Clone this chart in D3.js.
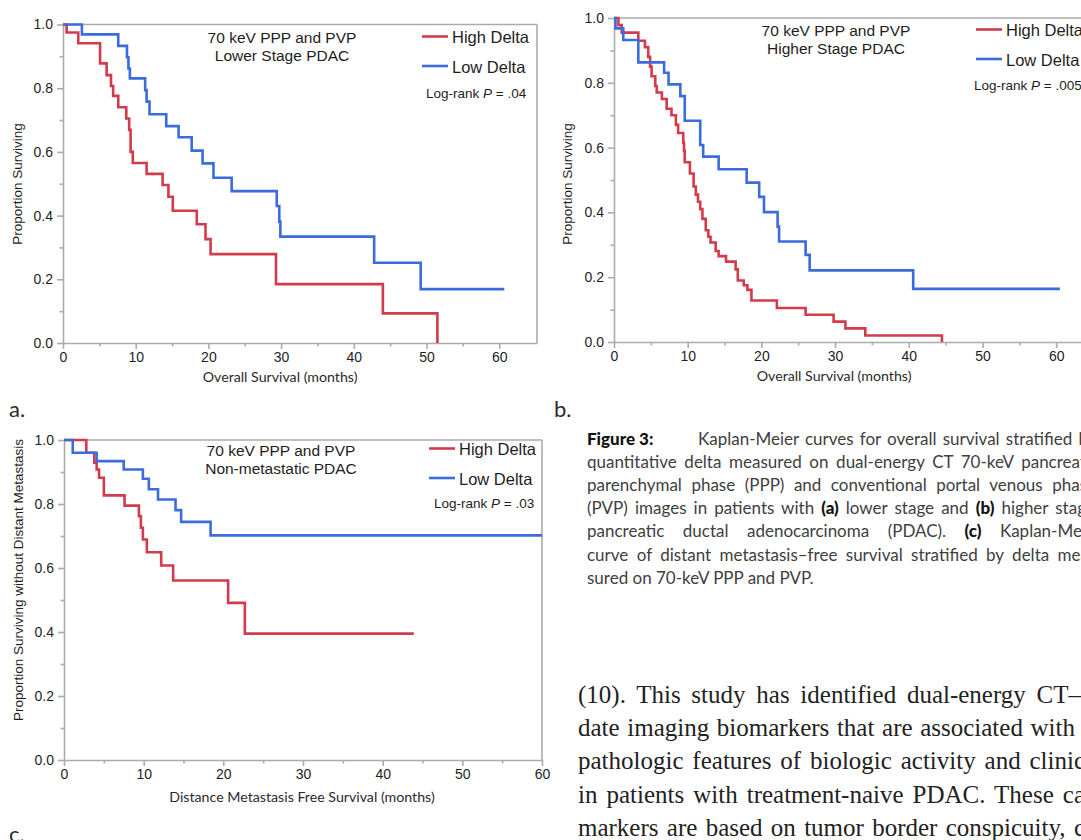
<!DOCTYPE html>
<html>
<head>
<meta charset="utf-8">
<title>Figure 3 Kaplan-Meier</title>
<script src="https://d3js.org/d3.v7.min.js"></script>
<style>
    body { margin: 0; background: #ffffff; overflow: hidden; }
    svg { display: block; }
    .axis path, .axis line { stroke: #ababab; stroke-width: 1.6px; }
    .axis.minor path { display: none; }
    .axis text { font-family: "Liberation Sans", Arial, sans-serif; font-size: 14px; fill: #1e1e1e; }
    .frame { stroke: #ababab; stroke-width: 1.6px; }
    .sans { font-family: "Liberation Sans", Arial, sans-serif; fill: #1e1e1e; }
    .geo { font-family: Lato, "Noto Sans", sans-serif; fill: #2a2a2a; }
    .caption { font-family: Lato, "Noto Sans", sans-serif; font-size: 17px; fill: #404040; }
    .caption .b, .caption.b { font-weight: 900; fill: #111; }
    .body { font-family: "Liberation Serif", "DejaVu Serif", serif; font-size: 25px; fill: #222; }
</style>
</head>
<body>
<svg id="fig" width="1081" height="840"></svg>
<script>
    // shared ticks
    const xTicks = [0, 10, 20, 30, 40, 50, 60];
    const xMinor = [5, 15, 25, 35, 45, 55];
    const yTicks = [0, 0.2, 0.4, 0.6, 0.8, 1.0];
    const yMinor = [0.1, 0.3, 0.5, 0.7, 0.9];
    const seriesNames = ["High Delta", "Low Delta"];

    // (a) lower stage PDAC, overall survival
    const aHighTime = [0, 0.5, 2.1, 5.1, 6.0, 6.6, 6.9, 7.6, 8.7, 9.1, 9.3, 9.6, 11.5, 13.7, 14.5, 15.1, 18.4, 19.6, 20.3, 29.3, 44.0, 51.5];
    const aHighSurv = [1, 0.975, 0.941, 0.878, 0.841, 0.807, 0.776, 0.740, 0.705, 0.669, 0.60, 0.565, 0.531, 0.496, 0.459, 0.415, 0.373, 0.326, 0.279, 0.185, 0.093, 0];
    const aLowTime = [0, 2.6, 7.6, 8.8, 9.0, 9.2, 11.3, 11.5, 11.9, 14.2, 15.9, 17.7, 19.2, 20.7, 23.2, 29.4, 29.75, 29.9, 42.8, 49.2, 60.7];
    const aLowSurv = [1, 0.969, 0.933, 0.897, 0.862, 0.831, 0.794, 0.758, 0.718, 0.681, 0.646, 0.604, 0.564, 0.519, 0.477, 0.43, 0.381, 0.334, 0.252, 0.169, 0.169];

    // (b) higher stage PDAC, overall survival
    const bHighTime = [0, 0.6, 1.05, 3.3, 4.2, 4.65, 4.9, 5.1, 5.6, 5.8, 6.5, 7.15, 7.8, 8.4, 8.7, 9.4, 9.5, 9.6, 10.3, 10.8, 11.1, 11.4, 11.7, 12.0, 12.45, 12.8, 13.1, 13.8, 14.2, 15.2, 16.5, 16.8, 17.6, 18.1, 18.65, 22.1, 26.0, 29.8, 31.4, 34.1, 44.5];
    const bHighSurv = [1, 0.978, 0.955, 0.93, 0.91, 0.88, 0.85, 0.82, 0.79, 0.77, 0.75, 0.72, 0.70, 0.67, 0.645, 0.615, 0.59, 0.555, 0.52, 0.48, 0.455, 0.433, 0.41, 0.38, 0.345, 0.325, 0.307, 0.281, 0.265, 0.248, 0.224, 0.19, 0.175, 0.161, 0.128, 0.105, 0.084, 0.063, 0.042, 0.02, 0];
    const bLowTime = [0, 0.2, 1.26, 3.3, 6.8, 7.4, 9.0, 9.6, 11.7, 12.1, 14.2, 18.0, 19.7, 20.35, 22.2, 22.4, 26.0, 26.55, 40.6, 60.5];
    const bLowSurv = [1, 0.968, 0.932, 0.863, 0.831, 0.795, 0.759, 0.683, 0.608, 0.572, 0.533, 0.492, 0.448, 0.401, 0.356, 0.31, 0.269, 0.221, 0.164, 0.164];

    // (c) non-metastatic PDAC, distant metastasis free survival
    const cHighTime = [0, 2.8, 3.8, 4.1, 4.4, 5.0, 7.6, 9.4, 9.65, 9.9, 10.4, 12.2, 13.7, 20.6, 22.7, 43.9];
    const cHighSurv = [1, 0.96, 0.929, 0.908, 0.882, 0.827, 0.795, 0.762, 0.726, 0.689, 0.649, 0.608, 0.561, 0.491, 0.395, 0.395];
    const cLowTime = [0, 1.1, 4.1, 7.5, 9.9, 10.65, 11.8, 14.0, 14.7, 18.4, 60];
    const cLowSurv = [1, 0.96, 0.934, 0.908, 0.879, 0.846, 0.814, 0.781, 0.744, 0.702, 0.702];

    const red = "#d13b4c";
    const blue = "#3a6cdb";

    const svg = d3.select("#fig");

    function drawPanel(p) {
        const g = svg.append("g");
        const x = d3.scaleLinear().domain([0, p.xMax]).range([p.left, p.right]);
        const y = d3.scaleLinear().domain([0, 1]).range([p.bottom, p.top]);

        // top + right frame
        g.append("line").attr("class", "frame")
            .attr("x1", p.left).attr("x2", p.right).attr("y1", p.top).attr("y2", p.top);
        g.append("line").attr("class", "frame")
            .attr("x1", p.right).attr("x2", p.right).attr("y1", p.top).attr("y2", p.bottom);

        // minor ticks
        g.append("g").attr("class", "axis minor")
            .attr("transform", `translate(0,${p.bottom})`)
            .call(d3.axisBottom(x).tickValues(xMinor).tickSize(3.5).tickFormat(""));
        g.append("g").attr("class", "axis minor")
            .attr("transform", `translate(${p.left},0)`)
            .call(d3.axisLeft(y).tickValues(yMinor).tickSize(3.5).tickFormat(""));

        // major axes
        g.append("g").attr("class", "axis")
            .attr("transform", `translate(0,${p.bottom})`)
            .call(d3.axisBottom(x).tickValues(xTicks).tickSize(6).tickSizeOuter(0).tickPadding(3).tickFormat(d3.format("d")));
        g.append("g").attr("class", "axis")
            .attr("transform", `translate(${p.left},0)`)
            .call(d3.axisLeft(y).tickValues(yTicks).tickSize(6).tickSizeOuter(0).tickPadding(4).tickFormat(d3.format(".1f")));

        // survival curves
        const line = d3.line()
            .x(d => x(d[0]))
            .y(d => y(d[1]))
            .curve(d3.curveStepAfter);
        p.series.forEach(s => {
            g.append("path")
                .datum(d3.zip(s.time, s.surv))
                .attr("d", line)
                .attr("fill", "none")
                .attr("stroke", s.color)
                .attr("stroke-width", 2.6);
        });

        // legend
        p.series.forEach((s, i) => {
            const ly = p.legY + i * 29.5;
            g.append("line")
                .attr("x1", p.legX).attr("x2", p.legX + 26)
                .attr("y1", ly).attr("y2", ly)
                .attr("stroke", s.color).attr("stroke-width", 2.6);
            g.append("text").attr("class", "sans")
                .attr("x", p.legX + 30).attr("y", ly + 6.5)
                .style("font-size", "16.5px")
                .text(seriesNames[i]);
        });
        const lr = g.append("text").attr("class", "sans")
            .attr("x", p.lrX).attr("y", p.lrY)
            .style("font-size", "13.5px");
        lr.append("tspan").text("Log-rank ");
        lr.append("tspan").style("font-style", "italic").text("P");
        lr.append("tspan").text(" = " + p.pval);

        // annotation
        p.title.forEach((t, i) => {
            g.append("text").attr("class", "sans")
                .attr("x", p.titleX).attr("y", p.titleY + i * 18.5)
                .attr("text-anchor", "middle")
                .style("font-size", "15.5px")
                .text(t);
        });

        // axis titles
        g.append("text").attr("class", "geo")
            .attr("x", x(30) - 1).attr("y", p.bottom + p.xTitleDy)
            .attr("text-anchor", "middle")
            .style("font-size", "14.2px")
            .text(p.xTitle);
        g.append("text").attr("class", "sans")
            .attr("transform", `translate(${p.yTitleX},${p.yTitleY}) rotate(-90)`)
            .attr("text-anchor", "middle")
            .style("font-size", "13.5px")
            .text(p.yTitle);

        // panel letter
        g.append("text").attr("class", "geo")
            .attr("x", p.tagX).attr("y", p.tagY)
            .style("font-size", "22px")
            .text(p.tag);
    }

    drawPanel({
        left: 63, right: 537, top: 24.5, bottom: 343, xMax: 65.2,
        series: [
            { time: aHighTime, surv: aHighSurv, color: red },
            { time: aLowTime, surv: aLowSurv, color: blue }
        ],
        legX: 422, legY: 36.5, lrX: 426, lrY: 97.5, pval: ".04",
        title: ["70 keV PPP and PVP", "Lower Stage PDAC"], titleX: 282, titleY: 42.5,
        xTitle: "Overall Survival (months)", xTitleDy: 39, yTitle: "Proportion Surviving",
        yTitleX: 22, yTitleY: 184, tag: "a.", tagX: 9, tagY: 417
    });

    drawPanel({
        left: 614, right: 1094.5, top: 18, bottom: 342, xMax: 65.2,
        series: [
            { time: bHighTime, surv: bHighSurv, color: red },
            { time: bLowTime, surv: bLowSurv, color: blue }
        ],
        legX: 976, legY: 29.5, lrX: 974, lrY: 89.5, pval: ".005",
        title: ["70 keV PPP and PVP", "Higher Stage PDAC"], titleX: 836, titleY: 35.5,
        xTitle: "Overall Survival (months)", xTitleDy: 39, yTitle: "Proportion Surviving",
        yTitleX: 572, yTitleY: 184, tag: "b.", tagX: 554, tagY: 417
    });

    drawPanel({
        left: 64, right: 542, top: 440, bottom: 760, xMax: 60,
        series: [
            { time: cHighTime, surv: cHighSurv, color: red },
            { time: cLowTime, surv: cLowSurv, color: blue }
        ],
        legX: 429, legY: 448.5, lrX: 434, lrY: 507.5, pval: ".03",
        title: ["70 keV PPP and PVP", "Non-metastatic PDAC"], titleX: 281, titleY: 455.5,
        xTitle: "Distance Metastasis Free Survival (months)", xTitleDy: 42, yTitle: "Proportion Surviving without Distant Metastasis",
        yTitleX: 23, yTitleY: 580, tag: "c.", tagX: 9, tagY: 842
    });

    // justify a text line by word spacing so it ends at `end`
    function justify(sel, start, end) {
        const w = sel.node().getComputedTextLength();
        const n = (sel.text().match(/ /g) || []).length;
        if (n) sel.attr("word-spacing", (end - start - w) / n);
    }

    // figure caption
    svg.append("text").attr("class", "caption b")
        .attr("x", 587).attr("y", 445)
        .text("Figure 3:");
    const capLines = [
        [["", "Kaplan-Meier curves for overall survival stratified b"]],
        [["", "quantitative delta measured on dual-energy CT 70-keV pancreat"]],
        [["", "parenchymal phase (PPP) and conventional portal venous phas"]],
        [["", "(PVP) images in patients with "], ["b", "(a)"], ["", " lower stage and "], ["b", "(b)"], ["", " higher stag"]],
        [["", "pancreatic ductal adenocarcinoma (PDAC). "], ["b", "(c)"], ["", " Kaplan-Mei"]],
        [["", "curve of distant metastasis\u2013free survival stratified by delta mea"]],
        [["", "sured on 70-keV PPP and PVP."]]
    ];
    const capStarts = [698, 587, 587, 587, 587, 587, 587];
    const capEnds = [1088, 1086, 1087, 1086, 1086, 1089, null];
    capLines.forEach((parts, i) => {
        const t = svg.append("text").attr("class", "caption")
            .attr("x", capStarts[i]).attr("y", 445 + i * 23.1);
        parts.forEach(pt => {
            t.append("tspan").attr("class", pt[0] || null).text(pt[1]);
        });
        if (capEnds[i]) justify(t, capStarts[i], capEnds[i]);
    });

    // running body text
    const bodyLines = [
        "(10). This study has identified dual-energy CT\u2013",
        "date imaging biomarkers that are associated with",
        "pathologic features of biologic activity and clinic",
        "in patients with treatment-naive PDAC. These ca",
        "markers are based on tumor border conspicuity, c"
    ];
    const bodyEnds = [1081, 1075, 1085, 1085, 1085];
    bodyLines.forEach((s, i) => {
        const t = svg.append("text").attr("class", "body")
            .attr("x", 578).attr("y", 703 + i * 33.2)
            .text(s);
        justify(t, 578, bodyEnds[i]);
    });
</script>
</body>
</html>
